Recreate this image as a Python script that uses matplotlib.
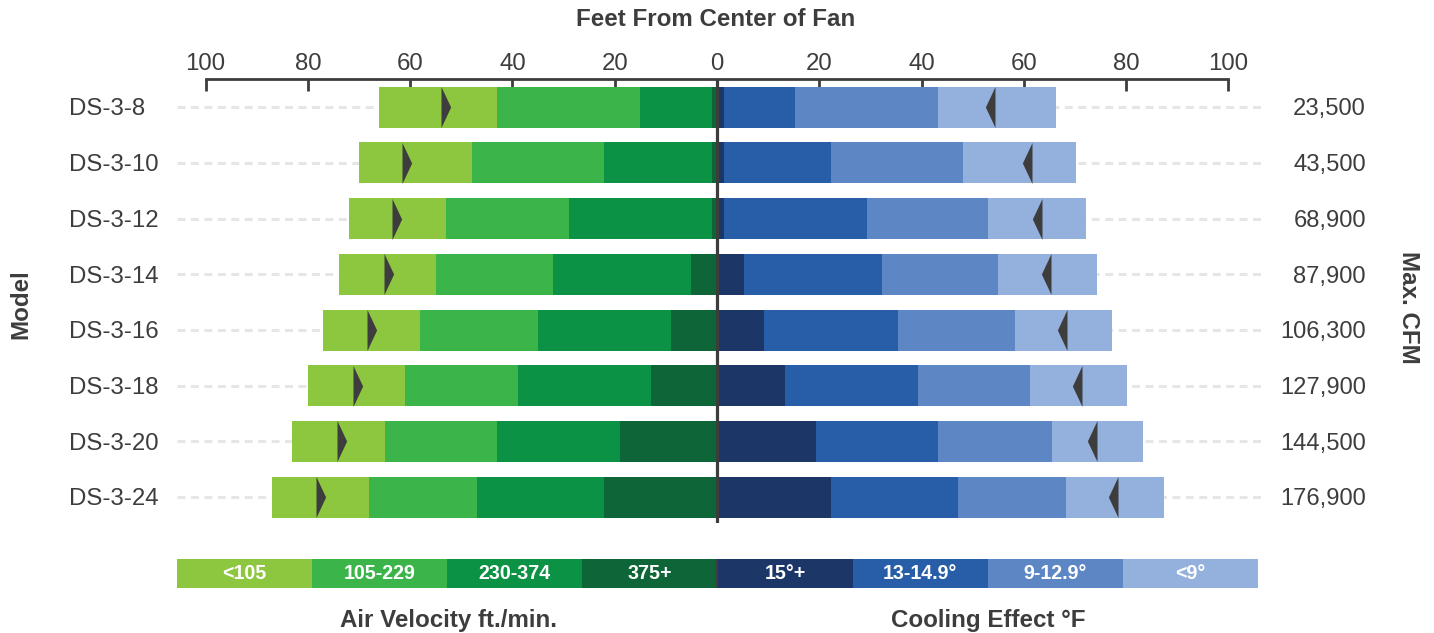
import matplotlib
matplotlib.use("Agg")
import matplotlib.pyplot as plt
import matplotlib.transforms as mtransforms
import numpy as np

plt.rcParams["font.family"] = ["Liberation Sans", "DejaVu Sans"]

models = ["DS-3-8", "DS-3-10", "DS-3-12", "DS-3-14", "DS-3-16", "DS-3-18", "DS-3-20", "DS-3-24"]
max_cfm = ["23,500", "43,500", "68,900", "87,900", "106,300", "127,900", "144,500", "176,900"]

# air velocity zones, outer edge in feet from fan (left side)
vel_375 = [1, 1, 1, 5, 9, 13, 19, 22]
vel_230 = [15, 22, 29, 32, 35, 39, 43, 47]
vel_105 = [43, 48, 53, 55, 58, 61, 65, 68]
vel_max = [66, 70, 72, 74, 77, 80, 83, 87]
vel_mark = [54, 61.5, 63.5, 65.2, 68.4, 71.2, 74.3, 78.4]

# cooling effect zones, outer edge in feet from fan (right side)
cool_15 = [1.3, 1.3, 1.3, 5.3, 9.2, 13.3, 19.4, 22.3]
cool_13 = [15.3, 22.3, 29.3, 32.3, 35.3, 39.2, 43.2, 47.1]
cool_9 = [43.2, 48.1, 53.0, 55.0, 58.3, 61.2, 65.4, 68.3]
cool_max = [66.3, 70.2, 72.2, 74.3, 77.3, 80.2, 83.3, 87.3]
cool_mark = [54.3, 61.5, 63.6, 65.3, 68.4, 71.3, 74.3, 78.4]

vel_labels = ["<105", "105-229", "230-374", "375+"]
cool_labels = ["15°+", "13-14.9°", "9-12.9°", "<9°"]
vel_colors = ["#8dc63f", "#3bb54a", "#0c9244", "#0e6537"]
cool_colors = ["#1c3668", "#285ea8", "#5d86c5", "#93b1dc"]

dark = "#3d3d3d"

fig = plt.figure(figsize=(14.34, 6.33), dpi=100)
ax = fig.add_axes([0.12336, 0.1733, 0.7583, 0.7019])

y = np.arange(len(models))
h = 0.736

# left side: stacked outward from 0
v_inner = [np.zeros(len(y)), vel_375, vel_230, vel_105]
v_outer = [vel_375, vel_230, vel_105, vel_max]
v_cols = vel_colors[::-1]
for inner, outer, c in zip(v_inner, v_outer, v_cols):
    inner = np.array(inner); outer = np.array(outer)
    ax.barh(y, -(outer - inner), left=-inner, height=h, color=c, zorder=2)

c_inner = [np.zeros(len(y)), cool_15, cool_13, cool_9]
c_outer = [cool_15, cool_13, cool_9, cool_max]
for inner, outer, c in zip(c_inner, c_outer, cool_colors):
    inner = np.array(inner); outer = np.array(outer)
    ax.barh(y, outer - inner, left=inner, height=h, color=c, zorder=2)

# triangle markers (base sits on the value, tip points to the fan)
tri_r = [(0, -1), (0.47, 0), (0, 1), (0, -1)]
tri_l = [(0, -1), (-0.47, 0), (0, 1), (0, -1)]
ax.plot(-np.array(vel_mark), y, ls="none", marker=tri_r, ms=29.5, color=dark,
        mec="none", zorder=4)
ax.plot(cool_mark, y, ls="none", marker=tri_l, ms=29.5, color=dark,
        mec="none", zorder=4)

ax.axvline(0, color=dark, lw=2.3, zorder=5)

ax.set_xlim(-105.6, 107)
ax.set_ylim(7.47, -0.506)
ax.set_yticks(y)
ax.grid(axis="y", color="#e6e6e6", lw=2.2, ls=(0, (2.6, 1.8)), zorder=0)
ax.set_axisbelow(True)

ticks = [-100, -80, -60, -40, -20, 0, 20, 40, 60, 80, 100]
ax.set_xticks(ticks)
ax.set_xticklabels([str(abs(t)) for t in ticks])
ax.xaxis.tick_top()
ax.tick_params(axis="x", direction="in", length=8.5, width=2, color=dark,
               labelsize=17.3, labelcolor=dark, pad=3)
ax.tick_params(axis="y", left=False, labelleft=False)
for s in ["left", "right", "bottom"]:
    ax.spines[s].set_visible(False)
ax.spines["top"].set_bounds(-100, 100)
ax.spines["top"].set_color(dark)
ax.spines["top"].set_linewidth(2)

trans = mtransforms.blended_transform_factory(fig.transFigure, ax.transData)
for yi, m, cfm in zip(y, models, max_cfm):
    ax.text(69 / 1434, yi + 0.04, m, transform=trans, ha="left", va="center",
            fontsize=17.3, color=dark)
    ax.text(1366 / 1434, yi + 0.04, cfm, transform=trans, ha="right", va="center",
            fontsize=17.1, color=dark)

fig.text(716 / 1434, 1 - 19 / 633, "Feet From Center of Fan", ha="center", va="center",
         fontsize=17.4, fontweight="bold", color=dark)
fig.text(21 / 1434, 1 - 304 / 633, "Model", rotation=90, ha="center", va="center",
         fontsize=17.4, fontweight="bold", color=dark)
fig.text(1408 / 1434, 1 - 307 / 633, "Max. CFM", rotation=270, ha="center", va="center",
         fontsize=17.4, fontweight="bold", color=dark)

# legend strip
lax = fig.add_axes([0.1233, 0.0706, 0.754, 0.0458])
leg_labels = vel_labels + cool_labels
leg_colors = vel_colors + cool_colors
lx = np.arange(len(leg_labels))
lax.bar(lx, 1, width=1, color=leg_colors)
for xi, lab in zip(lx, leg_labels):
    lax.text(xi, 0.5, lab, ha="center", va="center", color="white",
             fontsize=14.1, fontweight="bold")
lax.axvline(3.5, color=dark, lw=1.5)
lax.set_xlim(-0.5, 7.5)
lax.set_ylim(0, 1)
lax.axis("off")

fig.text(448 / 1434, 1 - 620 / 633, "Air Velocity ft./min.", ha="center", va="center",
         fontsize=17.4, fontweight="bold", color=dark)
fig.text(988 / 1434, 1 - 620 / 633, "Cooling Effect °F", ha="center", va="center",
         fontsize=17.4, fontweight="bold", color=dark)

fig.savefig("out.png", dpi=100)
